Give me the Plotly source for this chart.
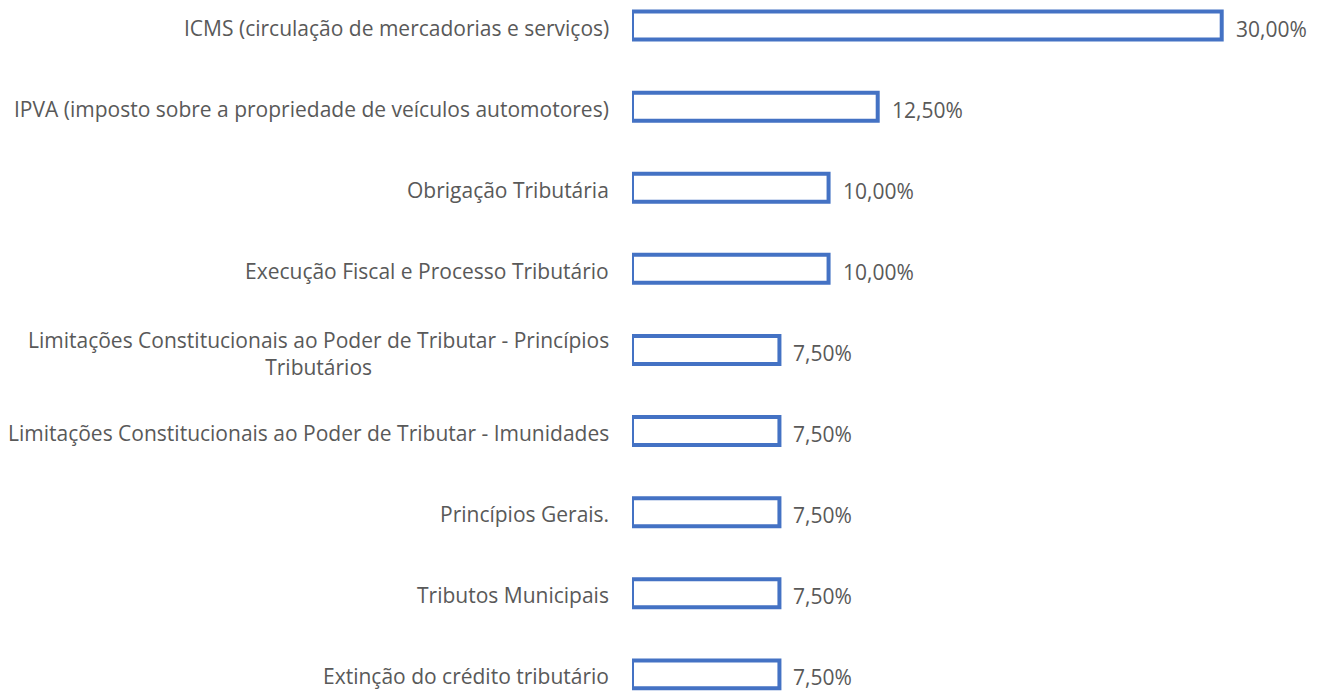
import plotly.graph_objects as go

categories = [
    "ICMS (circulação de mercadorias e serviços)",
    "IPVA (imposto sobre a propriedade de veículos automotores)",
    "Obrigação Tributária",
    "Execução Fiscal e Processo Tributário",
    "Limitações Constitucionais ao Poder de Tributar - Princípios<br>Tributários",
    "Limitações Constitucionais ao Poder de Tributar - Imunidades",
    "Princípios Gerais.",
    "Tributos Municipais",
    "Extinção do crédito tributário",
]
values = [0.30, 0.125, 0.10, 0.10, 0.075, 0.075, 0.075, 0.075, 0.075]
value_labels = ["30,00%", "12,50%", "10,00%", "10,00%", "7,50%", "7,50%", "7,50%", "7,50%", "7,50%"]

positions = list(range(len(categories)))
FONT = "Open Sans"
GRAY = "#595959"
BLUE = "#4472C4"

fig = go.Figure()
fig.add_trace(go.Bar(
    x=values, y=positions, orientation="h",
    marker=dict(color="white", line=dict(color=BLUE, width=4)),
    width=0.345, hoverinfo="skip",
))

annotations = []
for p, c, v, t in zip(positions, categories, values, value_labels):
    multi = "<br>" in c
    annotations.append(dict(x=0, y=p, xref="x", yref="y", text=c, showarrow=False,
                            xanchor="right", align="center", xshift=-22,
                            yshift=-4 if multi else -2, borderpad=0,
                            font=dict(family=FONT, size=21, color=GRAY)))
    annotations.append(dict(x=v, y=p, xref="x", yref="y", text=t, showarrow=False,
                            xanchor="left", xshift=13, yshift=-3, borderpad=0,
                            font=dict(family=FONT, size=21, color=GRAY)))

fig.update_layout(
    width=1327, height=691,
    margin=dict(l=632, r=7, t=0, b=0),
    plot_bgcolor="white", paper_bgcolor="white",
    showlegend=False,
    annotations=annotations,
    xaxis=dict(range=[0, 0.35], visible=False),
    yaxis=dict(range=[8.205, -0.315], visible=False),
)
fig.write_html("out.html")
